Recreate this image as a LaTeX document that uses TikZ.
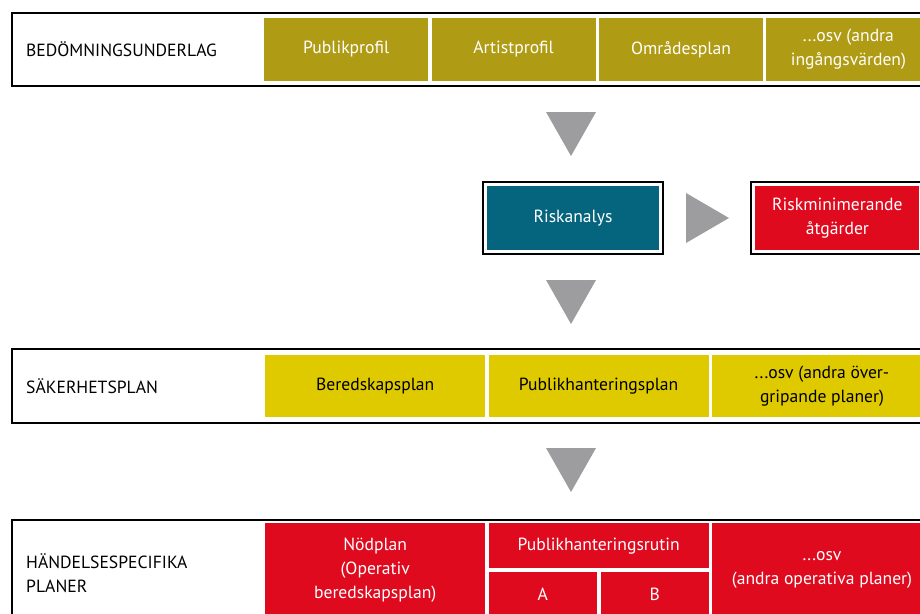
\documentclass[tikz,border=0pt]{standalone}
\usepackage{fontspec}
\setmainfont{PT Sans}
\usetikzlibrary{positioning,fit}

\definecolor{olive}{HTML}{B09C14}
\definecolor{gul}{HTML}{DFCA00}
\definecolor{petrol}{HTML}{05657F}
\definecolor{rod}{HTML}{E00A1F}
\definecolor{pil}{HTML}{9D9D9F}

\begin{document}
\begin{tikzpicture}[x=1pt, y=-1pt, font=\fontsize{17.6}{24}\selectfont, node distance=3pt, every node/.style={align=center, inner sep=0pt}, rowframe/.style={draw, line width=2.4pt, text width=900pt, align=left, inner xsep=14pt, anchor=west}, cell/.style={minimum width=#1, minimum height=63pt, text=white, fill=olive}, gulcell/.style={minimum width=#1, minimum height=62pt, fill=gul}, rodcell/.style={minimum width=#1, text=white, fill=rod}, boxframe/.style={draw, line width=2pt, inner sep=4pt}, tri/.style={fill=pil}]
\path[use as bounding box, clip] (0,0) rectangle (920,613);
% bedömningsunderlag
\node[rowframe, minimum height=73pt] (underlag) at (11,49.5) {BEDÖMNINGSUNDERLAG};
\node[cell=164pt, anchor=west] (publik) at (264,49.5) {Publikprofil};
\node[cell=164pt, right=of publik] (artist) {Artistprofil};
\node[cell=164pt, right=of artist] (omrade) {Områdesplan};
\node[cell=164pt, right=of omrade] (indata) {...osv (andra\\ingångsvärden)};
% riskanalys
\node[minimum width=172pt, minimum height=64pt, fill=petrol, text=white] (risk) at (573,218) {Riskanalys};
\node[boxframe, fit=(risk)] (riskram) {};
\node[minimum width=164pt, minimum height=64pt, fill=rod, text=white, right=96pt of risk] (atgard) {Riskminimerande\\åtgärder};
\node[boxframe, fit=(atgard)] (atgardram) {};
% säkerhetsplan
\node[rowframe, minimum height=74pt] (sakerhet) at (11,386) {SÄKERHETSPLAN};
\node[gulcell=220pt, anchor=west] (bered) at (265,386) {Beredskapsplan};
\node[gulcell=220pt, right=of bered] (publikplan) {Publikhanteringsplan};
\node[gulcell=220pt, right=of publikplan] (ovrigt) {...osv (andra över-\\gripande planer)};
% händelsespecifika planer
\node[rowframe, minimum height=106pt, anchor=north west] (handelse) at (11,519) {HÄNDELSESPECIFIKA\\PLANER};
\node[rodcell=220pt, minimum height=93pt, anchor=north west] (nodplan) at (265,523) {Nödplan\\(Operativ\\beredskapsplan)};
\node[rodcell=220pt, minimum height=45pt, anchor=north west] (rutin) at ([xshift=3pt]nodplan.north east) {Publikhanteringsrutin};
\node[rodcell=108.5pt, minimum height=45pt, anchor=north west] (rutinA) at ([yshift=-3pt]rutin.south west) {A};
\node[rodcell=108.5pt, minimum height=45pt, right=of rutinA] (rutinB) {B};
\node[rodcell=220pt, minimum height=93pt, anchor=north west] (operativ) at ([xshift=3pt]rutin.north east) {...osv\\(andra operativa planer)};
% pilar
\fill[tri] (546,112) -- (596,112) -- (571,156) -- cycle;
\fill[tri] (686,193) -- (729,218) -- (686,243) -- cycle;
\fill[tri] (546,280) -- (596,280) -- (571,324) -- cycle;
\fill[tri] (546,448) -- (596,448) -- (571,492) -- cycle;
\end{tikzpicture}
\end{document}
